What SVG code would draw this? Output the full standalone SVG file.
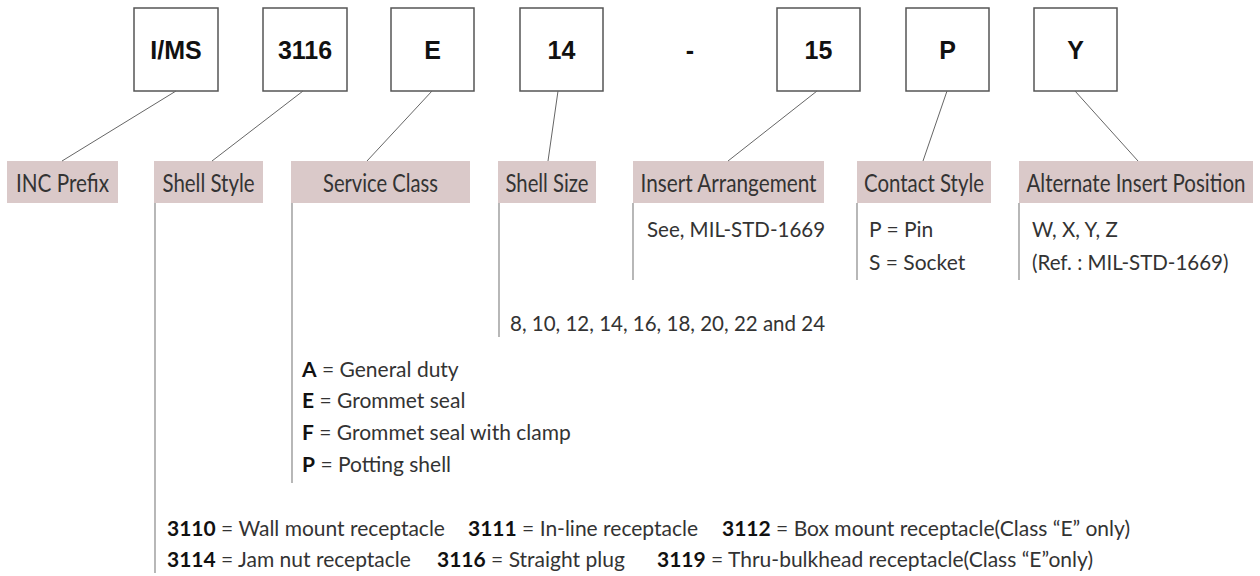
<svg xmlns="http://www.w3.org/2000/svg" width="1260" height="576" viewBox="0 0 1260 576">
<style>
.box{fill:#ffffff;stroke:#555555;stroke-width:1.5}
.code{font-family:"Liberation Sans",Arial,sans-serif;font-weight:bold;font-size:25px;fill:#111111;text-anchor:middle}
.band{fill:#dac9c9}
.lbl{font-family:Lato,"Open Sans",sans-serif;font-size:20px;fill:#333333;text-anchor:middle}
.conn{stroke:#666666;stroke-width:1;fill:none}
.drop{stroke:#888888;stroke-width:1.2;fill:none}
.txt{font-family:Lato,"Open Sans",sans-serif;font-size:20.5px;fill:#333333}
.big{font-size:21px}
.b{font-weight:bold;fill:#111111}
</style>
<rect width="1260" height="576" fill="#ffffff"/>

<g id="node-ims"><rect class="box" x="134" y="8" width="84" height="83"/><text class="code" x="176" y="59">I/MS</text></g>
<g id="node-3116"><rect class="box" x="263" y="8" width="84" height="83"/><text class="code" x="305" y="59">3116</text></g>
<g id="node-e"><rect class="box" x="391" y="8" width="83" height="83"/><text class="code" x="432.5" y="59">E</text></g>
<g id="node-14"><rect class="box" x="520" y="8" width="83" height="83"/><text class="code" x="561.5" y="59">14</text></g>
<g id="node-dash"><text class="code" x="690" y="59">-</text></g>
<g id="node-15"><rect class="box" x="777" y="8" width="83" height="83"/><text class="code" x="818.5" y="59">15</text></g>
<g id="node-p"><rect class="box" x="906" y="8" width="83" height="83"/><text class="code" x="947.5" y="59">P</text></g>
<g id="node-y"><rect class="box" x="1034" y="8" width="83" height="83"/><text class="code" x="1075.5" y="59">Y</text></g>

<g id="label-inc"><rect class="band" x="7" y="161" width="111" height="42"/><text class="lbl" transform="translate(62.5,192) scale(1,1.25)" textLength="93" lengthAdjust="spacingAndGlyphs">INC Prefix</text></g>
<g id="label-shell-style"><rect class="band" x="154" y="161" width="109" height="42"/><text class="lbl" transform="translate(208.5,192) scale(1,1.25)" textLength="92" lengthAdjust="spacingAndGlyphs">Shell Style</text></g>
<g id="label-service-class"><rect class="band" x="291" y="161" width="179" height="42"/><text class="lbl" transform="translate(380.5,192) scale(1,1.25)" textLength="115" lengthAdjust="spacingAndGlyphs">Service Class</text></g>
<g id="label-shell-size"><rect class="band" x="498" y="161" width="98" height="42"/><text class="lbl" transform="translate(547,192) scale(1,1.25)" textLength="83" lengthAdjust="spacingAndGlyphs">Shell Size</text></g>
<g id="label-insert"><rect class="band" x="633" y="161" width="191" height="42"/><text class="lbl" transform="translate(728.5,192) scale(1,1.25)" textLength="176" lengthAdjust="spacingAndGlyphs">Insert Arrangement</text></g>
<g id="label-contact"><rect class="band" x="857" y="161" width="134" height="42"/><text class="lbl" transform="translate(924,192) scale(1,1.25)" textLength="120" lengthAdjust="spacingAndGlyphs">Contact Style</text></g>
<g id="label-alternate"><rect class="band" x="1019" y="161" width="234" height="42"/><text class="lbl" transform="translate(1136,192) scale(1,1.25)" textLength="219" lengthAdjust="spacingAndGlyphs">Alternate Insert Position</text></g>

<g id="connectors">
<line class="conn" x1="176" y1="91" x2="62" y2="161"/>
<line class="conn" x1="303" y1="91" x2="212" y2="161"/>
<line class="conn" x1="432" y1="91" x2="367" y2="161"/>
<line class="conn" x1="558" y1="91" x2="548" y2="161"/>
<line class="conn" x1="817" y1="91" x2="728" y2="161"/>
<line class="conn" x1="947" y1="91" x2="923" y2="161"/>
<line class="conn" x1="1075" y1="91" x2="1138" y2="161"/>
<line class="drop" x1="155" y1="203" x2="155" y2="573"/>
<line class="drop" x1="292" y1="203" x2="292" y2="483"/>
<line class="drop" x1="499" y1="203" x2="499" y2="337"/>
<line class="drop" x1="633" y1="203" x2="633" y2="280"/>
<line class="drop" x1="857" y1="203" x2="857" y2="280"/>
<line class="drop" x1="1019" y1="203" x2="1019" y2="280"/>
</g>

<g id="desc-insert"><text class="txt" x="647" y="237">See, MIL-STD-1669</text></g>
<g id="desc-contact"><text class="txt big" x="869" y="237">P = Pin</text><text class="txt big" x="869" y="270">S = Socket</text></g>
<g id="desc-alternate"><text class="txt" x="1032" y="237">W, X, Y, Z</text><text class="txt" x="1032" y="270">(Ref. : MIL-STD-1669)</text></g>
<g id="desc-shell-size"><text class="txt" x="510" y="331">8, 10, 12, 14, 16, 18, 20, 22 and 24</text></g>
<g id="desc-service-class">
<text class="txt big" x="302" y="377"><tspan class="b">A</tspan> = General duty</text>
<text class="txt big" x="302" y="408"><tspan class="b">E</tspan> = Grommet seal</text>
<text class="txt big" x="302" y="440"><tspan class="b">F</tspan> = Grommet seal with clamp</text>
<text class="txt big" x="302" y="472"><tspan class="b">P</tspan> = Potting shell</text>
</g>
<g id="desc-shell-style">
<text class="txt big" x="167" y="536"><tspan class="b">3110</tspan> = Wall mount receptacle</text>
<text class="txt big" x="468" y="536"><tspan class="b">3111</tspan> = In-line receptacle</text>
<text class="txt big" x="722" y="536"><tspan class="b">3112</tspan> = Box mount receptacle(Class “E” only)</text>
<text class="txt big" x="167" y="567"><tspan class="b">3114</tspan> = Jam nut receptacle</text>
<text class="txt big" x="437" y="567"><tspan class="b">3116</tspan> = Straight plug</text>
<text class="txt big" x="657" y="567"><tspan class="b">3119</tspan> = Thru-bulkhead receptacle(Class “E”only)</text>
</g>
</svg>
